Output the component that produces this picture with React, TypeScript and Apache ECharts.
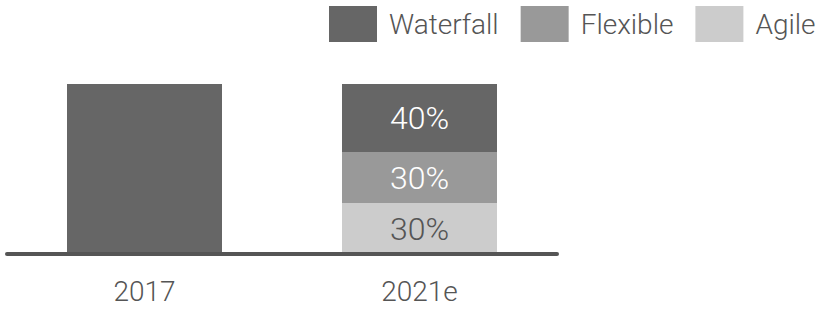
import React, { useEffect, useRef } from "react";
import * as echarts from "echarts";

const categories = ["2017", "2021e"];
const seriesNames = ["Waterfall", "Flexible", "Agile"];
const waterfall = [100, 40];
const flexible = [null, 30];
const agile = [null, 30];

const FONT = "'Roboto', sans-serif";
const W = 300;

export default function App() {
  const ref = useRef<HTMLDivElement>(null);
  useEffect(() => {
    if (!ref.current) return;
    const chart = echarts.init(ref.current, null, { renderer: "svg" });
    const labelFmt = (p: any) => (p.dataIndex === 0 ? "" : p.value + "%");
    chart.setOption({
      animation: false,
      textStyle: { fontFamily: FONT, fontWeight: W },
      legend: {
        left: 329,
        top: 6,
        width: 492,
        padding: 0,
        itemWidth: 48,
        itemHeight: 36,
        itemGap: 22,
        icon: "rect",
        data: seriesNames,
        textStyle: { fontSize: 28, color: "#555", fontFamily: FONT, fontWeight: W, padding: [0, 0, 0, 7] },
      },
      grid: { left: 7, right: 264, top: 84, bottom: 55, containLabel: false },
      xAxis: {
        type: "category",
        data: categories,
        z: 10,
        axisLine: { lineStyle: { color: "#555", width: 4 } },
        axisTick: { show: false },
        axisLabel: { fontSize: 28, color: "#555", margin: 23, fontFamily: FONT, fontWeight: W },
      },
      yAxis: { type: "value", min: 0, max: 100, show: false, splitLine: { show: false } },
      series: [
        {
          name: "Agile",
          type: "bar",
          stack: "s",
          barWidth: 155,
          data: agile,
          itemStyle: { color: "#cccccc" },
          label: { show: true, position: "inside", formatter: labelFmt, fontSize: 32, color: "#555", fontFamily: FONT, fontWeight: W },
        },
        {
          name: "Flexible",
          type: "bar",
          stack: "s",
          barWidth: 155,
          data: flexible,
          itemStyle: { color: "#999999" },
          label: { show: true, position: "inside", formatter: labelFmt, fontSize: 32, color: "#fff", fontFamily: FONT, fontWeight: W },
        },
        {
          name: "Waterfall",
          type: "bar",
          stack: "s",
          barWidth: 155,
          data: waterfall,
          itemStyle: { color: "#666666" },
          label: { show: true, position: "inside", formatter: labelFmt, fontSize: 32, color: "#fff", fontFamily: FONT, fontWeight: W },
        },
      ],
    });
    return () => chart.dispose();
  }, []);
  return <div ref={ref} style={{ width: 821, height: 309, position: "absolute", left: 0, top: 0 }} />;
}
